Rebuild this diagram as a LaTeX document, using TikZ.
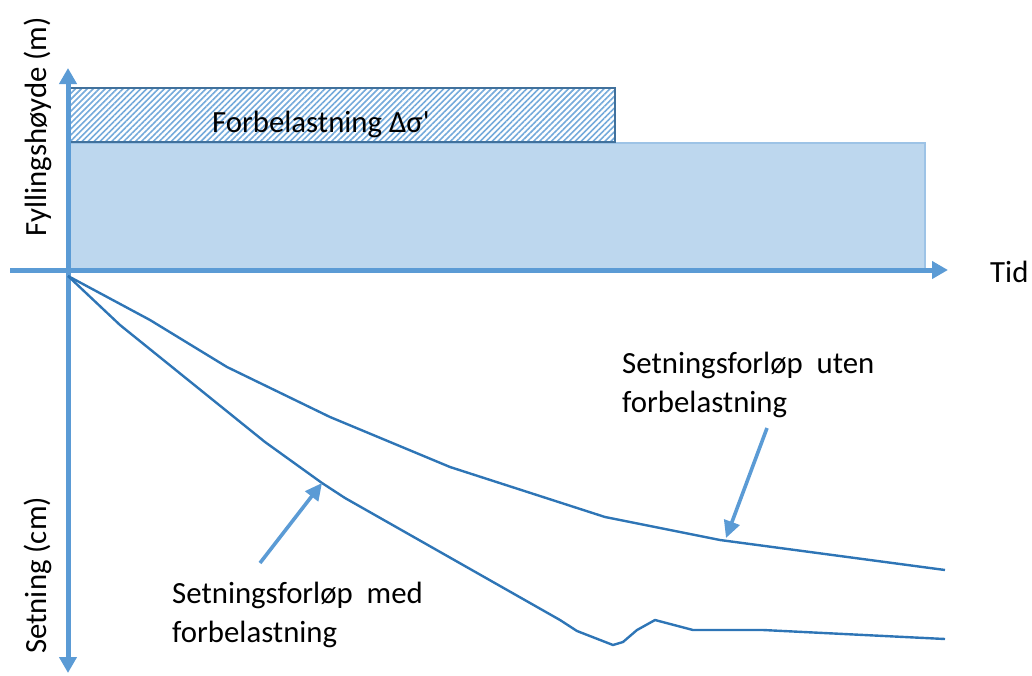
\documentclass[tikz,border=0pt]{standalone}
\usepackage{fontspec}
\setmainfont{Carlito}
\newfontfamily\calib{Carlito}
\usetikzlibrary{arrows.meta,patterns.meta}
\definecolor{axisblue}{HTML}{5B9BD5}
\definecolor{curveblue}{HTML}{2E75B6}
\definecolor{fillblue}{HTML}{BDD7EE}
\definecolor{edgeblue}{HTML}{9DC3E6}
\definecolor{darkedge}{HTML}{41719C}
\tikzset{
  axisline/.style={draw=axisblue, line width=5pt, -{Triangle[length=16pt,width=17pt]}},
  curve/.style={draw=curveblue, line width=2.4pt, line join=round},
  pointer/.style={draw=axisblue, line width=3.6pt, -{Triangle[length=17pt,width=16pt]}},
  lbl/.style={font=\calib\fontsize{30.8}{39}\selectfont, inner sep=0pt},
}
\begin{document}
\begin{tikzpicture}[x=1pt,y=-1pt]
\useasboundingbox (0,0) rectangle (1032,675);
% fills
\fill[fillblue, draw=edgeblue, line width=2pt] (68,143) rectangle (925,270);
\path[fill=white] (68,88) rectangle (615,142);
\path[pattern={Lines[angle=45,distance=4.2pt,line width=1.6pt]}, pattern color=axisblue!85] (68,88) rectangle (615,142);
\draw[darkedge, line width=2pt] (68,88) rectangle (615,142);
\node[lbl, anchor=base west] (fb) at (212,132) {Forbelastning Δσ'};
% axes
\coordinate (xs) at (10,270);
\coordinate (xe) at (948,270);
\coordinate (ys) at (68,270);
\coordinate (yt) at (68,68);
\coordinate (yb) at (68,673);
\draw[axisline] (xs) -- (xe);
\draw[axisline] (ys) -- (yt);
\draw[axisline] (ys) -- (yb);
\node[lbl, anchor=base west] (tid) at (990,282) {Tid};
\node[lbl, anchor=base west, rotate=90] (fy) at (46,237) {Fyllingshøyde (m)};
\node[lbl, anchor=base west, rotate=90] (se) at (46,654) {Setning (cm)};
% curves
\coordinate (o) at (68,276);
\coordinate (uA) at (720,540);
\coordinate (lA) at (322,483);
\draw[curve] (o) -- (150,320) -- (227,367) -- (330,417) -- (450,467) -- (605,517) -- (uA) -- (945,570);
\draw[curve] (o) -- (120,325) -- (265,442) -- (lA) -- (345,498) -- (560,620) -- (577,631) -- (613,645) -- (623,642) -- (637,630) -- (655,620) -- (693,630) -- (763,630) -- (945,639);
% labels and pointers
\node[lbl, anchor=base west] (ul) at (622,373) {Setningsforløp\ \ uten};
\node[lbl, anchor=base west] (ul2) at (622,412) {forbelastning};
\node[lbl, anchor=base west] (ll) at (172,603) {Setningsforløp\ \ med};
\node[lbl, anchor=base west] (ll2) at (172,642) {forbelastning};
\coordinate (ut) at (767,428);
\coordinate (lt) at (260,563);
\draw[pointer] (ut) -- (726,538);
\draw[pointer] (lt) -- (lA);
\end{tikzpicture}
\end{document}
